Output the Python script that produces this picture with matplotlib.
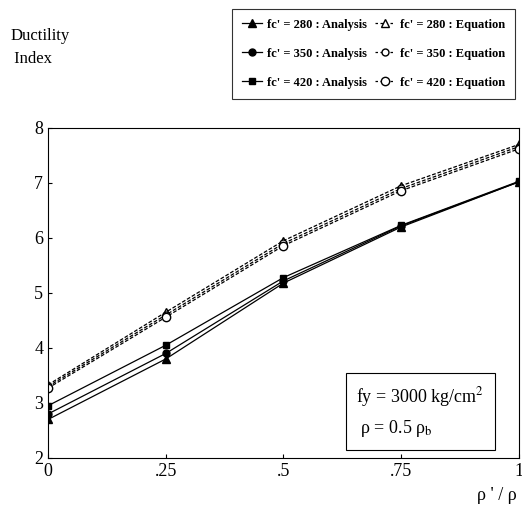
import matplotlib.pyplot as plt
from matplotlib.lines import Line2D

plt.rcParams['font.family'] = ['Liberation Serif', 'DejaVu Serif']
plt.rcParams['mathtext.fontset'] = 'stix'

ratio = [0, 0.25, 0.5, 0.75, 1.0]
xtick_labels = ["0", ".25", ".5", ".75", "1"]

ana_280 = [2.70, 3.80, 5.18, 6.20, 7.02]
ana_350 = [2.80, 3.90, 5.22, 6.22, 7.02]
ana_420 = [2.95, 4.05, 5.28, 6.23, 7.03]
eq_280 = [3.33, 4.65, 5.95, 6.95, 7.70]
eq_350 = [3.30, 4.60, 5.90, 6.90, 7.66]
eq_420 = [3.27, 4.56, 5.86, 6.86, 7.62]

fig = plt.figure(figsize=(5.22, 5.14), dpi=100)
ax = fig.add_axes([0.092, 0.109, 0.902, 0.642])

ax.plot(ratio, ana_280, "k-", marker="^", ms=6, lw=0.9)
ax.plot(ratio, ana_350, "k-", marker="o", ms=5, lw=0.9)
ax.plot(ratio, ana_420, "k-", marker="s", ms=5, lw=0.9)
ax.plot(ratio, eq_280, "k--", marker="^", ms=6, mfc="white", lw=0.9, dashes=(3, 1.5))
ax.plot(ratio, eq_350, "k--", marker="o", ms=5, mfc="white", lw=0.9, dashes=(3, 1.5))
ax.plot(ratio, eq_420, "k--", marker="o", ms=6, mfc="white", lw=0.9, dashes=(3, 1.5))

ax.set_xlim(0, 1)
ax.set_ylim(2, 8)
ax.set_xticks(ratio)
ax.set_xticklabels(xtick_labels)
ax.set_yticks(range(2, 9))
ax.tick_params(labelsize=13, length=3, direction="in")
for s in ax.spines.values():
    s.set_linewidth(0.8)

fig.text(0.02, 0.945, "Ductility\n Index", fontsize=12, ha="left", va="top", linespacing=1.6)
fig.text(0.99, 0.02, "ρ ' / ρ", fontsize=13, ha="right", va="bottom")

ax.text(0.655, 0.14, "fy = 3000 kg/cm$^2$\n ρ = 0.5 ρ$_\\mathrm{b}$", transform=ax.transAxes,
        fontsize=13, va="center", ha="left", linespacing=1.6,
        bbox=dict(boxstyle="square,pad=0.6", fc="white", ec="black", lw=0.8))

handles = [
    Line2D([], [], color="k", marker="^", ms=6, lw=0.9),
    Line2D([], [], color="k", marker="o", ms=5, lw=0.9),
    Line2D([], [], color="k", marker="s", ms=5, lw=0.9),
    Line2D([], [], color="k", ls="--", dashes=(2, 2), marker="^", ms=6, mfc="white", lw=0.9),
    Line2D([], [], color="k", ls="--", dashes=(2, 2), marker="o", ms=5, mfc="white", lw=0.9),
    Line2D([], [], color="k", ls="--", dashes=(2, 2), marker="o", ms=6, mfc="white", lw=0.9),
]
labels = [
    "fc' = 280 : Analysis", "fc' = 350 : Analysis", "fc' = 420 : Analysis",
    "fc' = 280 : Equation", "fc' = 350 : Equation", "fc' = 420 : Equation",
]
leg = fig.legend(handles, labels, ncol=2, loc="upper right", bbox_to_anchor=(0.998, 0.995),
                 prop=dict(size=9, weight="bold"), frameon=True, fancybox=False,
                 edgecolor="black", handlelength=1.6, handletextpad=0.4,
                 columnspacing=0.6, labelspacing=1.35, borderpad=0.8)
leg.get_frame().set_linewidth(0.8)

fig.savefig("out.png", dpi=100)
